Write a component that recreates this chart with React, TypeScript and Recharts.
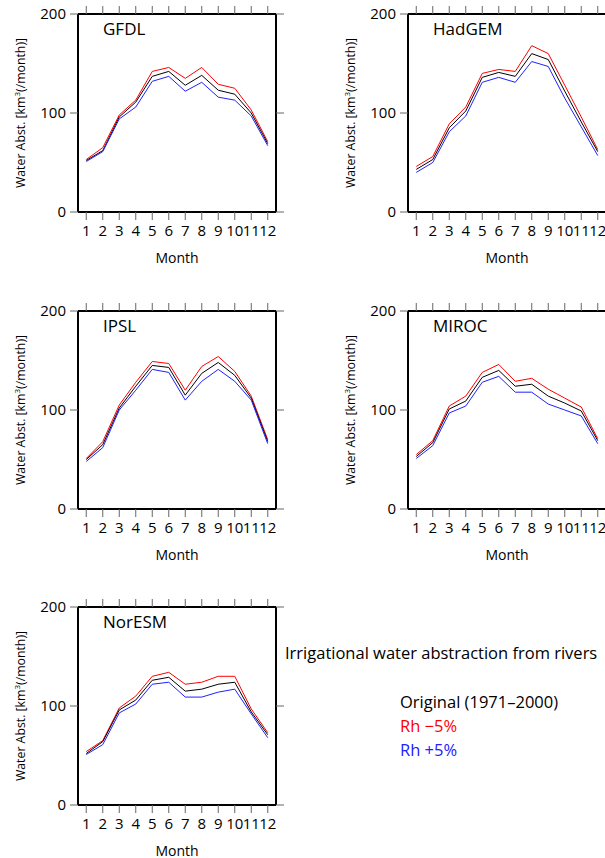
import React from 'react';
import {LineChart, Line, XAxis, YAxis} from 'recharts';

const months = [1, 2, 3, 4, 5, 6, 7, 8, 9, 10, 11, 12];
const yTicks = [0, 100, 200];

// Original (1971-2000), Rh -5% (red), Rh +5% (blue)
const gfdlOrig = [52, 62, 96, 111, 137, 142, 128, 138, 123, 119, 100, 69];
const gfdlMinus = [53, 65, 98, 113, 142, 146, 135, 146, 129, 125, 103, 71];
const gfdlPlus = [51, 61, 94, 106, 132, 137, 122, 131, 116, 113, 97, 67];

const hadgemOrig = [43, 53, 85, 102, 136, 141, 137, 160, 154, 122, 91, 61];
const hadgemMinus = [46, 56, 89, 106, 140, 144, 142, 168, 160, 128, 96, 63];
const hadgemPlus = [40, 50, 81, 97, 131, 136, 131, 152, 147, 115, 86, 57];

const ipslOrig = [50, 65, 102, 124, 145, 143, 115, 137, 148, 135, 112, 68];
const ipslMinus = [51, 68, 105, 128, 149, 147, 120, 144, 154, 139, 114, 70];
const ipslPlus = [48, 62, 100, 120, 141, 138, 110, 129, 141, 129, 110, 66];

const mirocOrig = [53, 67, 101, 109, 133, 140, 124, 126, 114, 107, 99, 69];
const mirocMinus = [55, 69, 104, 114, 138, 146, 129, 132, 121, 112, 103, 71];
const mirocPlus = [51, 64, 97, 104, 128, 134, 118, 118, 106, 100, 94, 66];

const noresmOrig = [52, 64, 96, 106, 126, 129, 115, 117, 122, 124, 94, 71];
const noresmMinus = [54, 65, 98, 110, 130, 134, 122, 124, 130, 130, 97, 73];
const noresmPlus = [51, 61, 93, 102, 122, 124, 109, 109, 114, 117, 92, 68];

const FONT = '"Open Sans", "Noto Sans", sans-serif';

function buildData(orig: number[], minus: number[], plus: number[]) {
  return months.map((m, i) => ({m, orig: orig[i], minus: minus[i], plus: plus[i]}));
}

function YLabel(props: any) {
  const {viewBox} = props;
  const x = viewBox.x + 20;
  const y = viewBox.y + viewBox.height / 2;
  return (
    <text x={x} y={y} transform={`rotate(-90 ${x} ${y})`} textAnchor="middle" dominantBaseline="central"
          fontSize={12.3} fontFamily={FONT} fill="#000">
      Water Abst. [km<tspan dy={-4} fontSize={8}>3</tspan><tspan dy={4}>(/month)]</tspan>
    </text>
  );
}

function XLabel(props: any) {
  const {viewBox} = props;
  return (
    <text x={viewBox.x + viewBox.width / 2} y={viewBox.y + 45} textAnchor="middle" dominantBaseline="central"
          fontSize={14} fontFamily={FONT} fill="#000">
      Month
    </text>
  );
}

const noLabel = () => <g/>;

function Panel({title, orig, minus, plus, left, top}: {
  title: string; orig: number[]; minus: number[]; plus: number[]; left: number; top: number;
}) {
  const data = buildData(orig, minus, plus);
  const tickStyle = {fontSize: 15, fontFamily: FONT, fill: '#000'};
  const frame = {stroke: '#000', strokeWidth: 2};
  const tickLn = {stroke: '#666', strokeWidth: 1};
  return (
    <div style={{position: 'absolute', left, top}}>
      <LineChart width={296} height={272} data={data} margin={{top: 0, right: 0, left: 0, bottom: 0}}>
        <XAxis xAxisId="top" orientation="top" dataKey="m" type="number" domain={[0.5, 12.5]} ticks={months}
               height={14} tick={noLabel} tickSize={8} axisLine={frame} tickLine={tickLn} interval={0}/>
        <XAxis xAxisId="bottom" dataKey="m" type="number" domain={[0.5, 12.5]} ticks={months}
               height={60} tick={tickStyle} tickSize={8} tickMargin={5} axisLine={frame} tickLine={tickLn}
               interval={0} label={XLabel}/>
        <YAxis yAxisId="left" type="number" domain={[0, 200]} ticks={yTicks} width={78}
               tick={tickStyle} tickSize={8} tickMargin={4} axisLine={frame} tickLine={tickLn} label={YLabel}/>
        <YAxis yAxisId="right" orientation="right" type="number" domain={[0, 200]} ticks={yTicks} width={20}
               tick={noLabel} tickSize={8} axisLine={frame} tickLine={tickLn}/>
        <Line xAxisId="bottom" yAxisId="left" dataKey="minus" stroke="#ff0000" strokeWidth={1} dot={false}
              isAnimationActive={false}/>
        <Line xAxisId="bottom" yAxisId="left" dataKey="orig" stroke="#000000" strokeWidth={1} dot={false}
              isAnimationActive={false}/>
        <Line xAxisId="top" yAxisId="right" dataKey="plus" stroke="#2020ff" strokeWidth={1} dot={false}
              isAnimationActive={false}/>
        <text x={103} y={28} dominantBaseline="central" fontSize={17} fontFamily={FONT} fill="#000">{title}</text>
      </LineChart>
    </div>
  );
}

export default function App() {
  const legendText = {position: 'absolute' as const, fontFamily: FONT, fontSize: 16.5, lineHeight: '22px', whiteSpace: 'nowrap' as const};
  return (
    <div style={{position: 'absolute', left: 0, top: 0, width: 605, height: 858, overflow: 'hidden', background: '#fff'}}>
      <Panel title="GFDL" orig={gfdlOrig} minus={gfdlMinus} plus={gfdlPlus} left={0} top={0}/>
      <Panel title="HadGEM" orig={hadgemOrig} minus={hadgemMinus} plus={hadgemPlus} left={330} top={0}/>
      <Panel title="IPSL" orig={ipslOrig} minus={ipslMinus} plus={ipslPlus} left={0} top={297}/>
      <Panel title="MIROC" orig={mirocOrig} minus={mirocMinus} plus={mirocPlus} left={330} top={297}/>
      <Panel title="NorESM" orig={noresmOrig} minus={noresmMinus} plus={noresmPlus} left={0} top={593}/>
      <div style={{...legendText, left: 285, top: 642, color: '#000'}}>Irrigational water abstraction from rivers</div>
      <div style={{...legendText, left: 400, top: 691, color: '#000'}}>Original (1971–2000)</div>
      <div style={{...legendText, left: 400, top: 715, color: '#ff0000'}}>Rh −5%</div>
      <div style={{...legendText, left: 400, top: 739, color: '#2020ff'}}>Rh +5%</div>
    </div>
  );
}
